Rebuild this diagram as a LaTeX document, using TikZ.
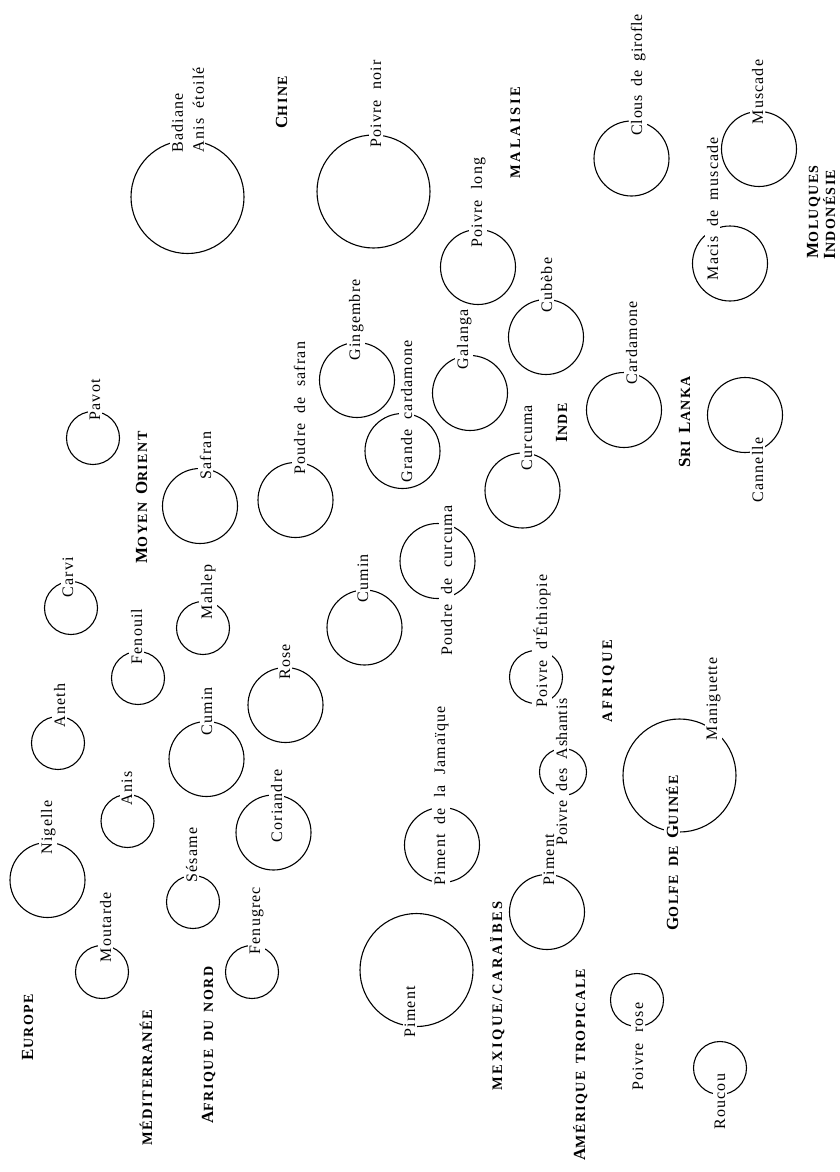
\documentclass[tikz,border=0pt]{standalone}
\usepackage{fontspec}
\setmainfont{Liberation Serif}
\newfontfamily\spicefont{Liberation Serif}[LetterSpace=7,WordSpace=2]
\newfontfamily\tightfont{Liberation Serif}[LetterSpace=4,WordSpace=2]
\newfontfamily\regionfont{Liberation Serif}[LetterSpace=10,WordSpace=1.6]
\newfontfamily\widefont{Liberation Serif}[LetterSpace=18]
\newcommand\Ini[1]{{\fontsize{17}{20}\selectfont #1}}

\begin{document}
\begin{tikzpicture}[x=1pt,y=-1pt,
  ring/.style={draw, circle, line width=1.1pt, inner sep=0pt},
  smallring/.style={ring, minimum size=53pt},
  tinyring/.style={ring, minimum size=47pt},
  midring/.style={ring, minimum size=75pt},
  bigring/.style={ring, minimum size=113pt},
  spicename/.style={rotate=90, anchor=base west, fill=white, inner sep=1.5pt,
    font=\spicefont\fontsize{16}{21}\selectfont},
  tightname/.style={spicename, font=\tightfont\fontsize{16}{21}\selectfont},
  region/.style={rotate=90, anchor=base west, fill=white, inner sep=1.5pt,
    font=\regionfont\bfseries\fontsize{14}{17}\selectfont},
  capsregion/.style={region, font=\regionfont\bfseries\fontsize{14.5}{17}\selectfont},
  wideregion/.style={region, font=\widefont\bfseries\fontsize{14.5}{17}\selectfont}]
  \fill[white] (0,0) rectangle (839,1172);
  \useasboundingbox (0,0) rectangle (839,1172);
  % circles
  \node[bigring]   (badiane)    at (187.5,197) {};
  \node[bigring]   (noir)       at (373.5,191.5) {};
  \node[midring]   (long)       at (478,267) {};
  \node[midring]   (girofle)    at (631.5,158.5) {};
  \node[midring]   (muscade)    at (759,149) {};
  \node[midring]   (macis)      at (730,263.5) {};
  \node[midring]   (cubebe)     at (546,337) {};
  \node[midring]   (gingembre)  at (357,380) {};
  \node[midring]   (galanga)    at (470,393) {};
  \node[midring]   (cardamone)  at (624,410) {};
  \node[midring]   (cannelle)   at (745,415) {};
  \node[midring]   (grande)     at (402.5,451) {};
  \node[midring]   (curcuma)    at (522.5,490.5) {};
  \node[smallring] (pavot)      at (93,438) {};
  \node[midring]   (safran)     at (200,506) {};
  \node[midring]   (psafran)    at (295.5,500) {};
  \node[midring]   (pcurcuma)   at (437.5,561) {};
  \node[smallring] (carvi)      at (71,608) {};
  \node[smallring] (mahlep)     at (203,628) {};
  \node[midring]   (cumin2)     at (364.5,627.5) {};
  \node[smallring] (fenouil)    at (138,678) {};
  \node[smallring] (ethiopie)   at (536,677) {};
  \node[midring]   (rose)       at (285.5,705) {};
  \node[smallring] (aneth)      at (58,743) {};
  \node[midring]   (cumin1)     at (206.5,759) {};
  \node[midring]   (jamaique)   at (442,845) {};
  \node[tinyring]  (ashantis)   at (563,772) {};
  \node[bigring]   (maniguette) at (679.5,775.5) {};
  \node[smallring] (anis)       at (127.5,821) {};
  \node[midring]   (coriandre)  at (273.5,832.5) {};
  \node[midring]   (nigelle)    at (47.5,880) {};
  \node[smallring] (sesame)     at (193,902) {};
  \node[midring]   (piment2)    at (547,912) {};
  \node[bigring]   (piment1)    at (416.5,970) {};
  \node[smallring] (moutarde)   at (102,972) {};
  \node[smallring] (fenugrec)   at (252,972) {};
  \node[smallring] (prose)      at (637,1000) {};
  \node[smallring] (roucou)     at (720,1068) {};
  % spice names
  \node[spicename, align=left, anchor=north west] (badiane-l) at (170,154) {Badiane\\Anis étoilé};
  \node[spicename] (noir-l)       at (381,149) {Poivre noir};
  \node[spicename] (long-l)       at (482,249) {Poivre long};
  \node[tightname] (girofle-l)    at (642,137) {Clous de girofle};
  \node[spicename] (muscade-l)    at (763,126) {Muscade};
  \node[spicename] (macis-l)      at (718,282) {Macis de muscade};
  \node[spicename] (cubebe-l)     at (552,314) {Cubèbe};
  \node[spicename] (gingembre-l)  at (360,362) {Gingembre};
  \node[spicename] (galanga-l)    at (468,371) {Galanga};
  \node[spicename] (cardamone-l)  at (637,386) {Cardamone};
  \node[spicename] (cannelle-l)   at (763,504) {Cannelle};
  \node[spicename] (grande-l)     at (412,484) {Grande cardamone};
  \node[spicename] (curcuma-l)    at (532,472) {Curcuma};
  \node[spicename] (pavot-l)      at (100,422) {Pavot};
  \node[spicename] (safran-l)     at (211,481) {Safran};
  \node[spicename] (psafran-l)    at (305,476) {Poudre de safran};
  \node[spicename] (pcurcuma-l)   at (452,657) {Poudre de curcuma};
  \node[spicename] (carvi-l)      at (73,599) {Carvi};
  \node[spicename] (mahlep-l)     at (212,621) {Mahlep};
  \node[spicename] (cumin2-l)     at (368,604) {Cumin};
  \node[spicename] (fenouil-l)    at (142,666) {Fenouil};
  \node[spicename] (ethiopie-l)   at (547,709) {Poivre d'Éthiopie};
  \node[spicename] (rose-l)       at (290,681) {Rose};
  \node[spicename] (aneth-l)      at (65,729) {Aneth};
  \node[spicename] (cumin1-l)     at (212,737) {Cumin};
  \node[spicename] (jamaique-l)   at (445,887) {Piment de la Jamaïque};
  \node[tightname] (ashantis-l)   at (567,847) {Poivre des Ashantis};
  \node[spicename] (maniguette-l) at (717,742) {Maniguette};
  \node[spicename] (anis-l)       at (132,807) {Anis};
  \node[spicename] (coriandre-l)  at (282,844) {Coriandre};
  \node[spicename] (nigelle-l)    at (52,856) {Nigelle};
  \node[spicename] (sesame-l)     at (197,884) {Sésame};
  \node[spicename] (piment2-l)    at (554,887) {Piment};
  \node[spicename] (piment1-l)    at (415,1039) {Piment};
  \node[spicename] (moutarde-l)   at (111,964) {Moutarde};
  \node[spicename] (fenugrec-l)   at (260,956) {Fenugrec};
  \node[spicename] (prose-l)      at (643,1092) {Poivre rose};
  \node[spicename] (roucou-l)     at (725,1131) {Roucou};
  % regions
  \node[region]     (europe)    at (33,1062)  {\Ini{E}UROPE};
  \node[capsregion] (medit)     at (152,1147) {MÉDITERRANÉE};
  \node[region]     (anord)     at (213,1125) {\Ini{A}FRIQUE DU NORD};
  \node[wideregion] (mexique)   at (502,1092) {MEXIQUE/CARAÏBES};
  \node[region]     (amerique)  at (585,1162) {\Ini{A}MÉRIQUE TROPICALE};
  \node[region]     (guinee)    at (678,932)  {\Ini{G}OLFE DE \Ini{G}UINÉE};
  \node[wideregion] (afrique)   at (612,724)  {AFRIQUE};
  \node[region]     (moyen)     at (147,565)  {\Ini{M}OYEN \Ini{O}RIENT};
  \node[region]     (chine)     at (287,130)  {\Ini{C}HINE};
  \node[wideregion] (malaisie)  at (520,180)  {MALAISIE};
  \node[region]     (inde)      at (567,444)  {\Ini{I}NDE};
  \node[region]     (srilanka)  at (690,469)  {\Ini{S}RI \Ini{L}ANKA};
  \node[region]     (moluques)  at (818,260)  {\Ini{M}OLUQUES};
  \node[region]     (indonesie) at (835,261)  {\Ini{I}NDONÉSIE};
\end{tikzpicture}
\end{document}
